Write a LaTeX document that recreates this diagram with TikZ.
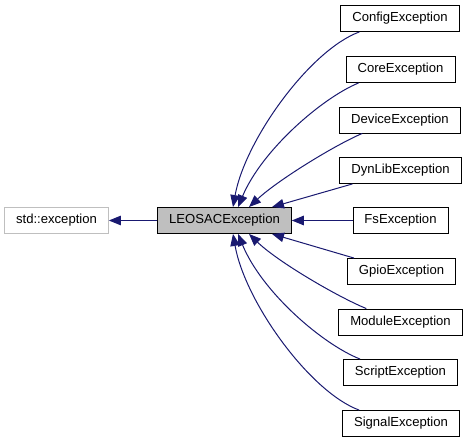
\documentclass[tikz,border=0pt]{standalone}
\usepackage{fontspec}
\setmainfont{Liberation Sans}
\usetikzlibrary{arrows.meta}
\definecolor{edgeblue}{RGB}{25,25,112}
\definecolor{boxgray}{RGB}{191,191,191}
\begin{document}
\begin{tikzpicture}[x=1pt,y=-1pt,
  cls/.style={draw=black, fill=white, line width=0.9pt, minimum height=26pt, inner xsep=11.5pt, inner ysep=0pt, font=\fontsize{13.1}{15}\selectfont},
  extcls/.style={cls, draw=boxgray},
  curcls/.style={cls, fill=boxgray},
  edge/.style={draw=edgeblue, line width=1pt, -{Triangle[length=12pt,width=9.5pt]}}]
\useasboundingbox (0,0) rectangle (468,443);
\node[extcls] (std) at (56.5,220.5) {std::exception};
\node[curcls] (leo) at (224.5,220.5) {LEOSACException};
\node[cls] (config) at (400,18.5) {ConfigException};
\node[cls] (core) at (400.5,69.5) {CoreException};
\node[cls] (device) at (400,120) {DeviceException};
\node[cls] (dynlib) at (400.5,170.5) {DynLibException};
\node[cls] (fs) at (400.5,220.5) {FsException};
\node[cls] (gpio) at (401.5,271.5) {GpioException};
\node[cls] (module) at (400.5,322) {ModuleException};
\node[cls] (script) at (400.5,372.5) {ScriptException};
\node[cls] (signal) at (401,423.5) {SignalException};
\draw[edge] (leo.west) -- (std.east);
\draw[edge] ([xshift=19pt]config.south west) .. controls (310,50) and (245,140) .. ([xshift=8.5pt]leo.north);
\draw[edge] ([xshift=13pt]core.south west) .. controls (322,98) and (262,150) .. ([xshift=13.5pt]leo.north);
\draw[edge] ([xshift=23pt]device.south west) .. controls (335,145) and (278,180) .. ([xshift=24.5pt]leo.north);
\draw[edge] ([xshift=13pt]dynlib.south west) -- ([xshift=47.5pt]leo.north);
\draw[edge] (fs.west) -- (leo.east);
\draw[edge] ([xshift=7pt]gpio.north west) -- ([xshift=47.5pt]leo.south);
\draw[edge] ([xshift=28pt]module.north west) .. controls (338,297) and (278,262) .. ([xshift=24.5pt]leo.south);
\draw[edge] ([xshift=17pt]script.north west) .. controls (322,344) and (262,292) .. ([xshift=13.5pt]leo.south);
\draw[edge] ([xshift=17pt]signal.north west) .. controls (310,392) and (245,302) .. ([xshift=8.5pt]leo.south);
\end{tikzpicture}
\end{document}
